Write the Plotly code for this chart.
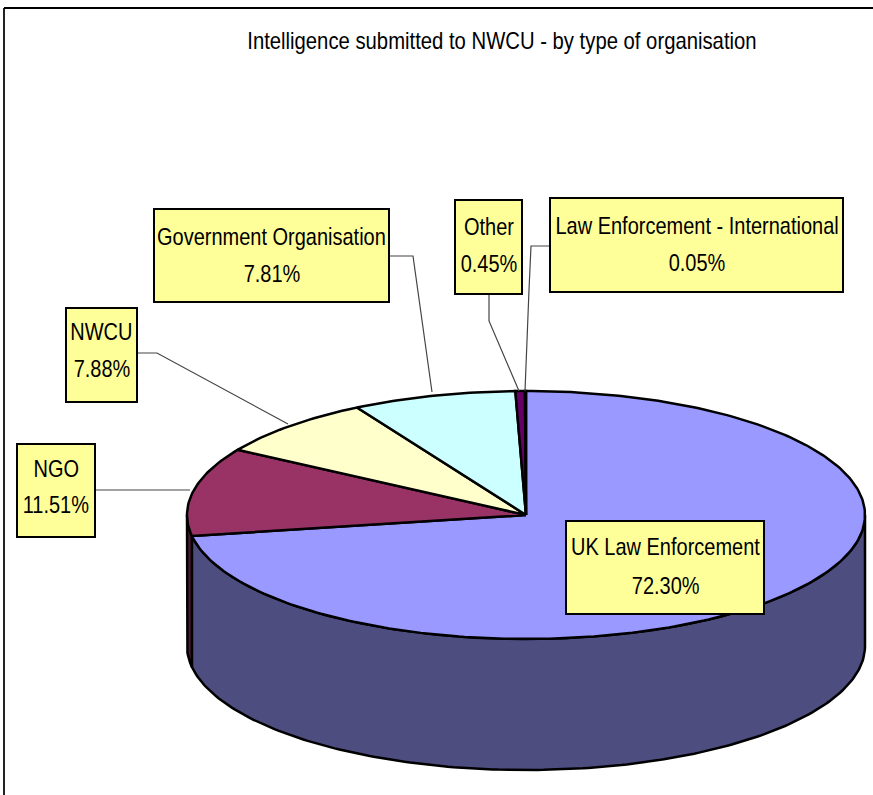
import math
import plotly.graph_objects as go

title = "Intelligence submitted to NWCU - by type of organisation"
labels = ["UK Law Enforcement", "NGO", "NWCU", "Government Organisation", "Other", "Law Enforcement - International"]
values = [72.30, 11.51, 7.88, 7.81, 0.45, 0.05]
top_colors = ["#9999FF", "#993366", "#FFFFCC", "#CCFFFF", "#660066", "#FF8080"]
side_colors = ["#4D4D80", "#4D1933", "#808066", "#668080", "#330033", "#804040"]

CX, CY, RX, RY, DEPTH = 526, 515, 339, 124, 131
FONT = "Liberation Sans, Arial, sans-serif"


def pt(t, dy=0):
    return CX + RX * math.sin(t), CY - RY * math.cos(t) + dy


def arc(a, b, dy=0):
    n = max(2, int(abs(b - a) * 60))
    return [pt(a + (b - a) * i / n, dy) for i in range(n + 1)]


fig = go.Figure()


def poly(points, fill=None, color="black", width=2.5):
    xs = [p[0] for p in points]
    ys = [p[1] for p in points]
    fig.add_trace(go.Scatter(
        x=xs, y=ys, mode="lines",
        line=dict(color=color, width=width),
        fill="toself" if fill else None,
        fillcolor=fill,
        hoverinfo="skip", showlegend=False,
    ))


# cumulative angles, clockwise from 12 o'clock
angles = [0.0]
for v in values:
    angles.append(angles[-1] + v / 100 * 2 * math.pi)

# side walls (only the front half, pi/2..3pi/2, is visible)
for i in range(len(values)):
    a, b = max(angles[i], math.pi / 2), min(angles[i + 1], 3 * math.pi / 2)
    if b > a:
        poly(arc(a, b) + arc(b, a, DEPTH) + [pt(a)], fill=side_colors[i])

# top wedges
for i in range(len(values)):
    poly([(CX, CY)] + arc(angles[i], angles[i + 1]) + [(CX, CY)], fill=top_colors[i])

# leader lines
leaders = [
    [(95, 490), (190, 490)],
    [(137, 353), (157, 353), (288, 424)],
    [(389, 256), (413, 256), (432, 392)],
    [(489, 295), (489, 321), (519, 391)],
    [(550, 246), (531, 246), (529, 290), (525, 391)],
]
for line in leaders:
    poly(line, color="#444444", width=1.2)

# label boxes: (x0, y0, x1, y1, line-1 y, line-2 y)
boxes = [
    (566, 521, 764, 614, 546, 585),
    (17, 444, 95, 537, 468, 504),
    (66, 308, 137, 402, 331, 368),
    (154, 209, 389, 302, 236, 273),
    (455, 200, 522, 294, 226, 263),
    (550, 198, 843, 292, 225, 262),
]

shapes = [
    dict(type="line", x0=4, x1=4, y0=8, y1=795, line=dict(color="#222222", width=2)),
    dict(type="line", x0=4, x1=873, y0=8, y1=8, line=dict(color="black", width=2)),
]
annotations = [dict(x=502, y=41, text=title, showarrow=False, xanchor="center", yanchor="middle",
                    font=dict(family=FONT, size=23, color="black"))]
for lab, val, box in zip(labels, values, boxes):
    x0, y0, x1, y1, ly1, ly2 = box
    shapes.append(dict(type="rect", x0=x0, y0=y0, x1=x1, y1=y1,
                       fillcolor="#FFFF99", line=dict(color="black", width=2)))
    xc = (x0 + x1) / 2
    for txt, ly in ((lab, ly1), (f"{val:.2f}%", ly2)):
        annotations.append(dict(x=xc, y=ly, text=txt, showarrow=False, xanchor="center", yanchor="middle",
                                font=dict(family=FONT, size=24, color="black")))

fig.update_layout(
    width=873, height=795,
    margin=dict(l=0, r=0, t=0, b=0),
    paper_bgcolor="white", plot_bgcolor="white",
    xaxis=dict(range=[0, 873], visible=False, fixedrange=True),
    yaxis=dict(range=[795, 0], visible=False, fixedrange=True),
    shapes=shapes,
    annotations=annotations,
    showlegend=False,
)
# The reference's type is horizontally condensed: squeeze the real text glyphs about their centres.
squeeze_js = """
document.body.style.margin='0';document.body.style.overflow='hidden';
document.querySelectorAll('text.annotation-text').forEach(function(t,i){
  var k = i === 0 ? 0.882 : 0.833;
  var b = t.getBBox();
  var c = b.x + b.width/2;
  t.setAttribute('transform','translate('+c+',0) scale('+k+',1) translate('+(-c)+',0)');
});
"""
fig.write_html("out.html", config={"displayModeBar": False}, post_script=squeeze_js)
